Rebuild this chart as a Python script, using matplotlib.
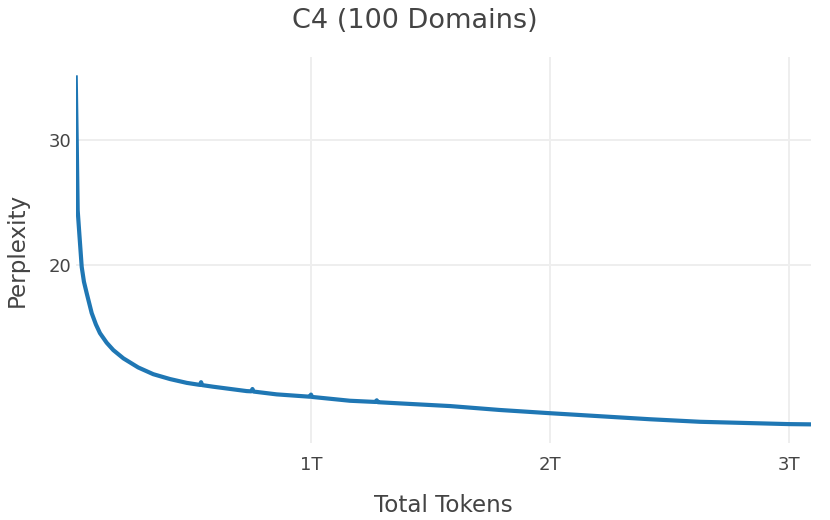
import matplotlib
matplotlib.use("Agg")
import matplotlib.pyplot as plt
from matplotlib.ticker import FixedLocator, NullLocator, FixedFormatter

# Data (x in trillions of tokens, y perplexity)
tokens_T = [0.0155, 0.0197, 0.0238, 0.0305, 0.0406, 0.050, 0.0615, 0.0824,
            0.100, 0.117, 0.145, 0.173, 0.215, 0.277, 0.340, 0.410, 0.480,
            0.535, 0.540, 0.545, 0.591, 0.731, 0.750, 0.755, 0.760, 0.856,
            0.995, 1.0, 1.005, 1.163, 1.270, 1.275, 1.280, 1.372, 1.582,
            1.79, 2.0, 2.418, 2.628, 3.0, 3.092]
perplexity = [37.03, 30.0, 23.9, 22.19, 19.89, 18.95, 18.26, 17.12,
              16.50, 16.04, 15.55, 15.18, 14.78, 14.35, 14.04, 13.82, 13.65,
              13.56, 13.68, 13.55, 13.48, 13.29, 13.28, 13.38, 13.27, 13.15,
              13.05, 13.14, 13.04, 12.88, 12.83, 12.90, 12.82, 12.77, 12.66,
              12.50, 12.37, 12.13, 12.03, 11.94, 11.93]

y_ticks = [20, 30]
y_tick_labels = ["20", "30"]
x_ticks = [1, 2, 3]
x_tick_labels = ["1T", "2T", "3T"]

title = "C4 (100 Domains)"
x_title = "Total Tokens"
y_title = "Perplexity"

text_color = "#444444"
grid_color = "#eeeeee"
line_color = "#1f77b4"

plt.rcParams['font.family'] = ['DejaVu Sans']

fig = plt.figure(figsize=(8.3, 5.2), dpi=100)
left, right = 75.7 / 830, 811 / 830
bottom, top = 1 - 443 / 520, 1 - 57 / 520
ax = fig.add_axes([left, bottom, right - left, top - bottom])

ax.plot(tokens_T, perplexity, color=line_color, linewidth=3.0,
        solid_joinstyle="round", solid_capstyle="butt", zorder=3)

ax.set_yscale("log")
ax.set_xlim(tokens_T[0], tokens_T[-1])
ax.set_ylim(11.23, 39.3)

ax.yaxis.set_major_locator(FixedLocator(y_ticks))
ax.yaxis.set_major_formatter(FixedFormatter(y_tick_labels))
ax.yaxis.set_minor_locator(NullLocator())
ax.xaxis.set_major_locator(FixedLocator(x_ticks))
ax.xaxis.set_major_formatter(FixedFormatter(x_tick_labels))
ax.xaxis.set_minor_locator(NullLocator())

ax.grid(True, color=grid_color, linewidth=1.4)
ax.set_axisbelow(True)
for s in ax.spines.values():
    s.set_visible(False)

ax.tick_params(axis="both", length=0, labelsize=13, labelcolor=text_color)
ax.tick_params(axis="x", pad=9)
ax.tick_params(axis="y", pad=3)

fig.text(415 / 830, 1 - 21 / 520, title, ha="center", va="center",
         fontsize=19.5, color=text_color)
fig.text((left + right) / 2, 1 - 505 / 520, x_title, ha="center", va="center",
         fontsize=16.6, color=text_color)
fig.text(17 / 830, (bottom + top) / 2, y_title, ha="center", va="center",
         rotation=90, fontsize=16.6, color=text_color)

fig.savefig("out.png", dpi=100, facecolor="white")
